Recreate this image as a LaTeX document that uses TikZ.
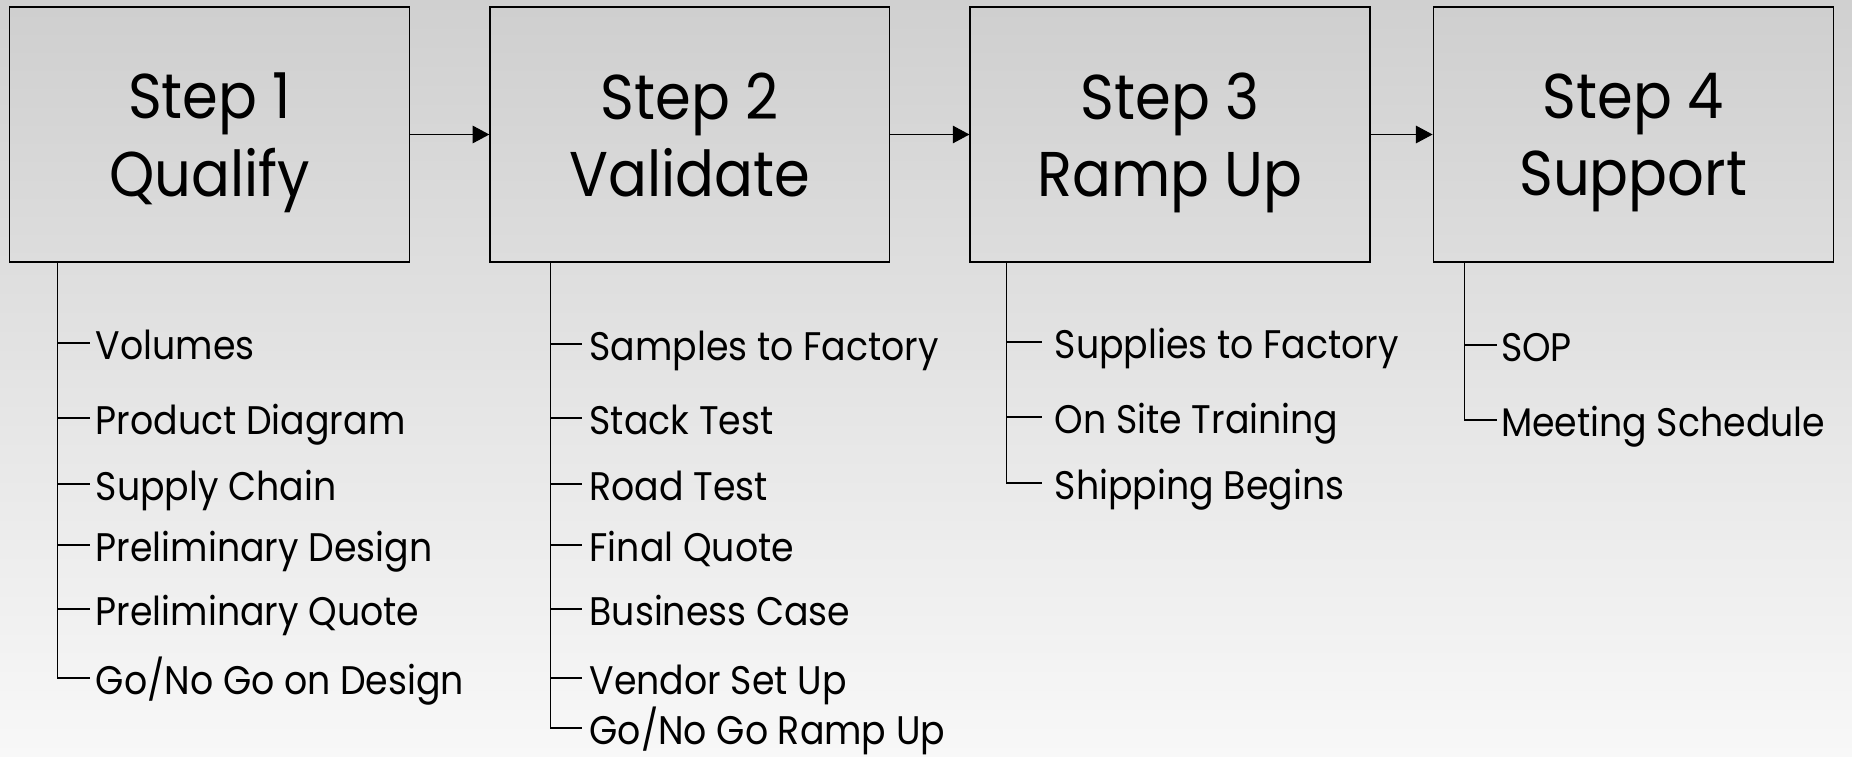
\documentclass[tikz,border=0pt]{standalone}
\usepackage{fontspec}
\setmainfont{Poppins}[FakeStretch=0.91]
\usetikzlibrary{arrows.meta, positioning, calc}
\definecolor{bgtop}{HTML}{D0D0D0}
\definecolor{bgbot}{HTML}{F8F8F8}
\definecolor{boxtop}{HTML}{CFCFCF}
\definecolor{boxbot}{HTML}{DDDDDD}
\tikzset{
  every picture/.style={line width=0.7pt},
  stepbox/.style={draw=black, top color=boxtop, bottom color=boxbot, minimum width=8cm, minimum height=5.1cm, align=center, inner sep=0pt, text depth=0pt, font=\fontsize{36}{44}\selectfont},
  flow/.style={-{Triangle[length=9.5pt, width=10pt]}},
  item/.style={anchor=west, inner xsep=#1, inner ysep=0pt, text height=19pt, text depth=0pt, font=\fontsize{22.7}{26}\selectfont},
  item/.default=3pt,
}
\begin{document}
\begin{tikzpicture}[x=0.02cm, y=-0.02cm]
  \useasboundingbox (0,0) rectangle (1852,757);
  \fill[top color=bgtop, bottom color=bgbot] (0,0) rectangle (1852,757);
  % the four steps
  \node[stepbox] (s1) at (209.75,134.5) {Step 1\\Qualify};
  \node[stepbox, right=1.58cm of s1] (s2) {Step 2\\Validate};
  \node[stepbox, right=1.58cm of s2] (s3) {Step 3\\Ramp Up};
  \node[stepbox, right=1.24cm of s3] (s4) {Step 4\\Support};
  \draw[flow] (s1.east) -- (s2.west);
  \draw[flow] (s2.east) -- (s3.west);
  \draw[flow] (s3.east) -- (s4.west);
  % trunks under each box
  \coordinate (t1) at ($(s1.south west)+(48.5,0)$);
  \coordinate (t2) at ($(s2.south west)+(61,0)$);
  \coordinate (t3) at ($(s3.south west)+(37,0)$);
  \coordinate (t4) at ($(s4.south west)+(32,0)$);
  % step 1 tasks
  \foreach \y/\txt [count=\i] in {343/Volumes, 418/Product Diagram, 484/Supply Chain, 545/Preliminary Design, 609/Preliminary Quote, 678/{Go/No Go on Design}} {
    \node[item] (a\i) at (90,\y) {\txt};
    \draw (t1 |- a\i.west) -- (a\i.west);
  }
  \draw (t1) |- (a6.west);
  % step 2 tasks
  \foreach \y/\txt [count=\i] in {344/Samples to Factory, 418/Stack Test, 484/Road Test, 545/Final Quote, 609/Business Case, 678/Vendor Set Up, 728/{Go/No Go Ramp Up}} {
    \node[item=4pt] (b\i) at (582,\y) {\txt};
    \draw (t2 |- b\i.west) -- (b\i.west);
  }
  \draw (t2) |- (b7.west);
  % step 3 tasks
  \foreach \y/\txt [count=\i] in {342/Supplies to Factory, 417/On Site Training, 483/Shipping Begins} {
    \node[item=7pt] (c\i) at (1042,\y) {\txt};
    \draw (t3 |- c\i.west) -- (c\i.west);
  }
  \draw (t3) |- (c3.west);
  % step 4 tasks
  \foreach \y/\txt [count=\i] in {345/SOP, 420/Meeting Schedule} {
    \node[item=2pt] (d\i) at (1497,\y) {\txt};
    \draw (t4 |- d\i.west) -- (d\i.west);
  }
  \draw (t4) |- (d2.west);
\end{tikzpicture}
\end{document}
